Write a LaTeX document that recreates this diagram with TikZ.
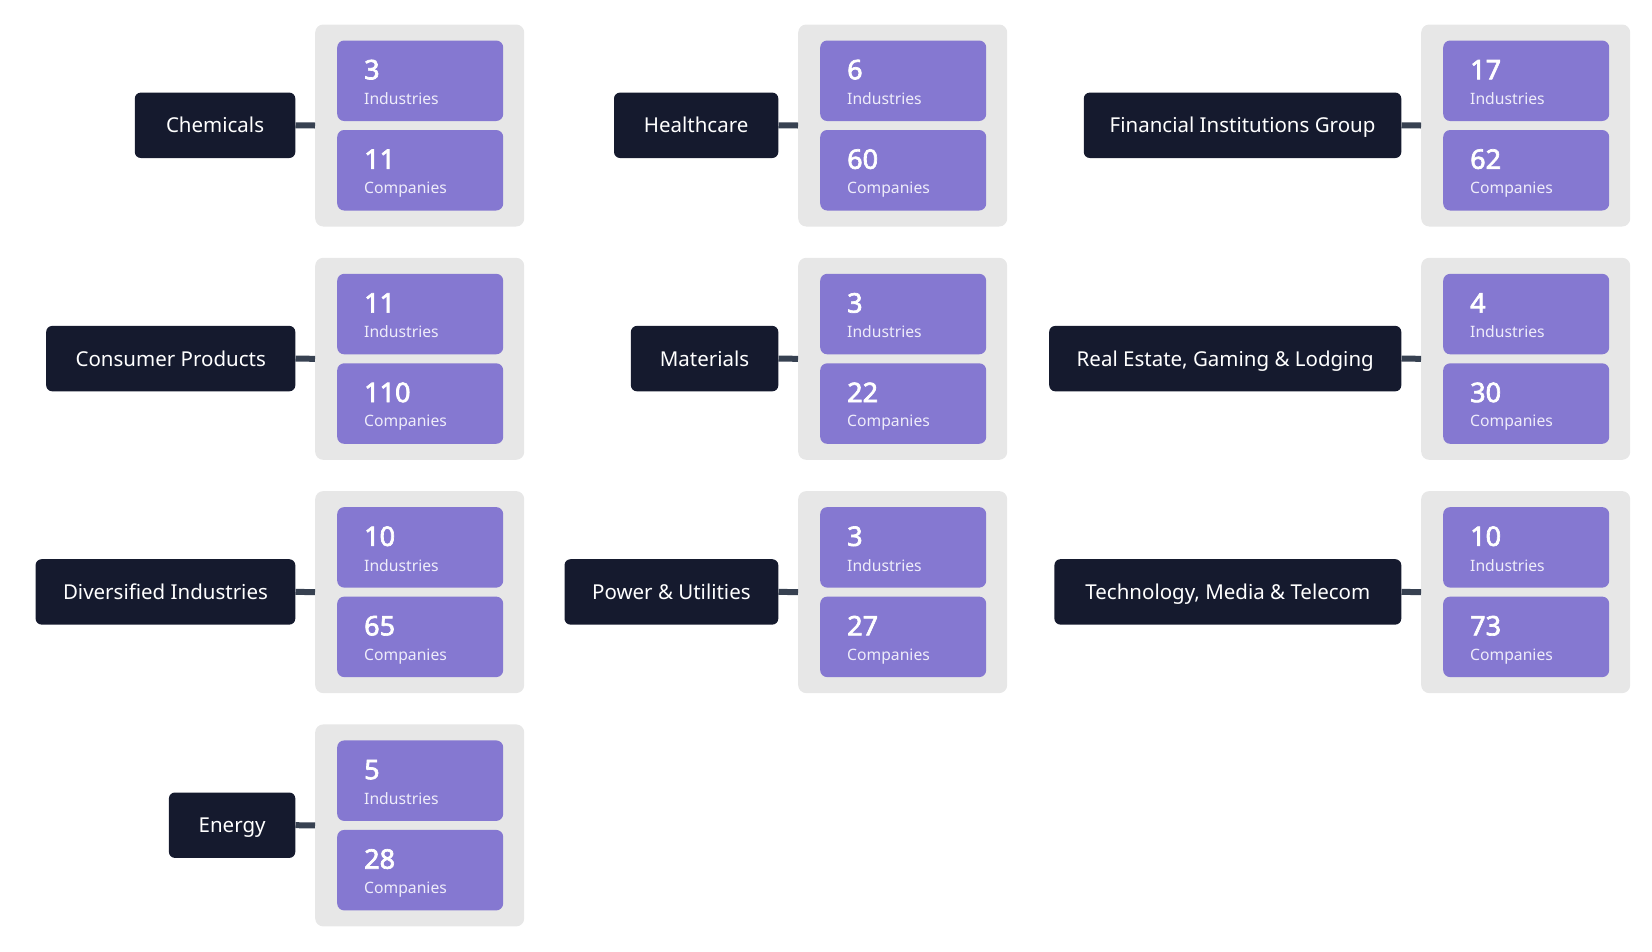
\documentclass[tikz,border=0pt]{standalone}
\usepackage{fontspec}
\setmainfont{Noto Sans}
\IfFontExistsTF{Noto Sans Bold}{\newfontfamily\numfont{Noto Sans Bold}}{%
  \IfFontExistsTF{Noto Sans SemiBold}{\newfontfamily\numfont{Noto Sans SemiBold}}{%
    \newfontfamily\numfont{Noto Sans}[FakeBold=2.5]}}
\usetikzlibrary{calc}
\definecolor{darkbg}{HTML}{151A2E}
\definecolor{purp}{HTML}{8578D1}
\definecolor{graybg}{HTML}{E7E7E7}
\definecolor{connc}{HTML}{374151}
\definecolor{subtxt}{HTML}{EEECFA}
\tikzset{
  graybox/.style={fill=graybg, rounded corners=8pt, inner sep=0pt, minimum width=209pt, minimum height=202pt, anchor=north west},
  purpbox/.style={fill=purp, rounded corners=7pt, inner sep=0pt, minimum width=166pt, minimum height=80.5pt, anchor=north west},
  darkbox/.style={fill=darkbg, rounded corners=6pt, inner sep=0pt, minimum height=65.4pt, text height=15pt, text depth=0pt, anchor=east, text=white, font=\fontsize{20.5}{24}\selectfont},
  numtxt/.style={anchor=base west, inner sep=0pt, text=white, font=\numfont\fontsize{27}{30}\selectfont},
  subtxtst/.style={anchor=base west, inner sep=0pt, text=subtxt, font=\fontsize{15.7}{18}\selectfont},
  conn/.style={draw=connc, line width=6pt}
}
% #1 id, #2 gray left x, #3 gray top y, #4 dark left x, #5 label, #6 industries, #7 companies
\newcommand{\sectorgrp}[7]{%
  \node[graybox] (g#1) at (#2,#3) {};
  \node[purpbox] (pa#1) at ({#2+22},{#3+16}) {};
  \node[purpbox] (pb#1) at ({#2+22},{#3+105.5}) {};
  \node[numtxt] (na#1) at ({#2+49},{#3+55}) {#6};
  \node[subtxtst] (sa#1) at ({#2+49},{#3+80.3}) {Industries};
  \node[numtxt] (nb#1) at ({#2+49},{#3+144.5}) {#7};
  \node[subtxtst] (sb#1) at ({#2+49},{#3+169.3}) {Companies};
  \node[darkbox, minimum width={#2-19.5-#4}] (d#1) at ({#2-19.5},{#3+101}) {#5};
  \draw[conn] (d#1.east) -- (g#1.west);
}
\begin{document}
\begin{tikzpicture}[x=1pt,y=-1pt]
\useasboundingbox (0,0) rectangle (1652,951);
\sectorgrp{chem}{315}{24.3}{135}{Chemicals}{3}{11}
\sectorgrp{cons}{315}{257.6}{46.4}{Consumer Products}{11}{110}
\sectorgrp{div}{315}{490.9}{35.8}{Diversified Industries}{10}{65}
\sectorgrp{ene}{315}{724.2}{169.1}{Energy}{5}{28}
\sectorgrp{health}{798}{24.3}{614.2}{Healthcare}{6}{60}
\sectorgrp{mat}{798}{257.6}{631.1}{Materials}{3}{22}
\sectorgrp{pow}{798}{490.9}{564.7}{Power \& Utilities}{3}{27}
\sectorgrp{fig}{1421}{24.3}{1084}{Financial Institutions Group}{17}{62}
\sectorgrp{real}{1421}{257.6}{1049.4}{Real Estate, Gaming \& Lodging}{4}{30}
\sectorgrp{tmt}{1421}{490.9}{1054.6}{Technology, Media \& Telecom}{10}{73}
\end{tikzpicture}
\end{document}
